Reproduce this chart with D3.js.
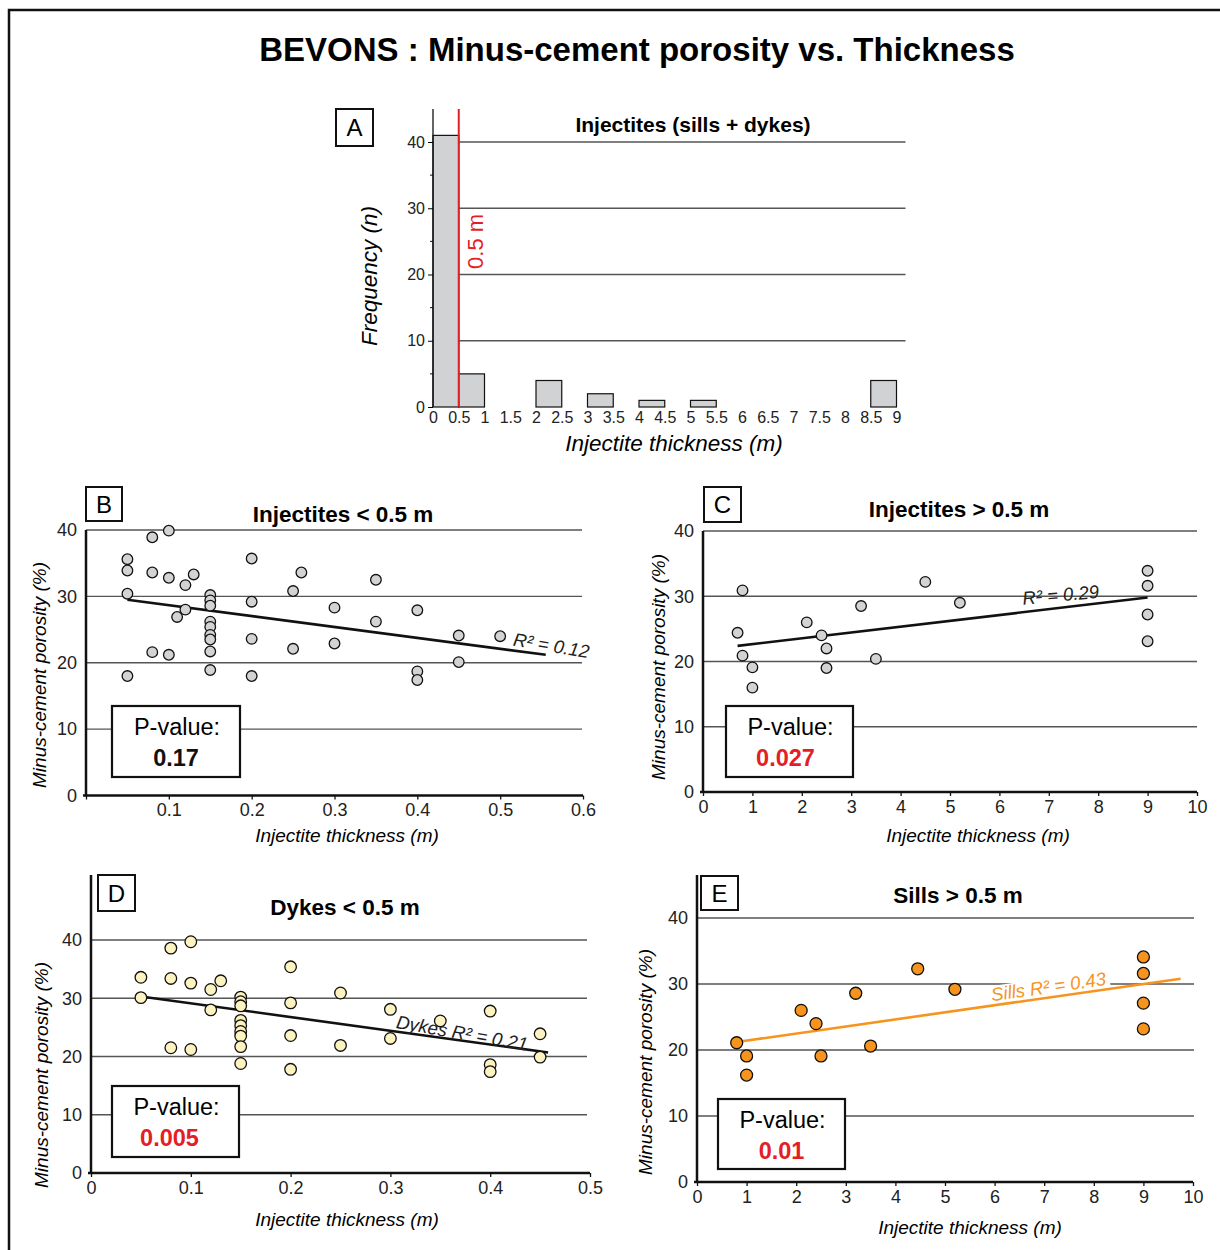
<!DOCTYPE html>
<html>
<head>
<meta charset="utf-8">
<script src="https://cdn.jsdelivr.net/npm/d3@7"></script>
<style>
  body { margin: 0; background: #fff; }
  svg { display: block; font-family: "Liberation Sans", Arial, sans-serif; }
</style>
</head>
<body>
<svg id="chart" width="1220" height="1250"></svg>
<script>
// ---- data ----
const histStart = [0, 0.5, 2, 3, 4, 5, 8.5];
const histCount = [41, 5, 4, 2, 1, 1, 4];
const histTicks = [0, 0.5, 1, 1.5, 2, 2.5, 3, 3.5, 4, 4.5, 5, 5.5, 6, 6.5, 7, 7.5, 8, 8.5, 9];

// B: all injectites < 0.5 m
const injThinX = [0.05, 0.05, 0.05, 0.05, 0.08, 0.08, 0.08, 0.10, 0.10, 0.10, 0.11, 0.12, 0.12, 0.13,
  0.15, 0.15, 0.15, 0.15, 0.15, 0.15, 0.15, 0.15, 0.15, 0.20, 0.20, 0.20, 0.20, 0.25, 0.25, 0.26,
  0.30, 0.30, 0.35, 0.35, 0.40, 0.40, 0.40, 0.45, 0.45, 0.50];
const injThinY = [35.6, 33.9, 30.4, 18.0, 38.9, 33.6, 21.6, 39.9, 32.8, 21.2, 26.9, 31.7, 28.0, 33.3,
  30.2, 29.4, 28.6, 26.2, 25.4, 24.2, 23.5, 21.7, 18.9, 35.7, 29.2, 23.6, 18.0, 30.8, 22.1, 33.6,
  28.3, 22.9, 32.5, 26.2, 27.9, 18.7, 17.4, 24.1, 20.1, 24.0];
const injThinTrend = [[0.05, 29.5], [0.555, 21.2]];

// C: all injectites > 0.5 m
const injThickX = [0.7, 0.8, 0.8, 1.0, 1.0, 2.1, 2.4, 2.5, 2.5, 3.2, 3.5, 4.5, 5.2, 9, 9, 9, 9];
const injThickY = [24.4, 30.9, 20.9, 19.1, 16.0, 26.0, 24.0, 22.0, 19.0, 28.5, 20.4, 32.2, 29.0, 33.9, 31.6, 27.2, 23.1];
const injThickTrend = [[0.7, 22.4], [9.0, 29.8]];

// D: dykes < 0.5 m
const dykeX = [0.05, 0.05, 0.08, 0.08, 0.08, 0.10, 0.10, 0.10, 0.12, 0.12, 0.13,
  0.15, 0.15, 0.15, 0.15, 0.15, 0.15, 0.15, 0.15, 0.15, 0.20, 0.20, 0.20, 0.20,
  0.25, 0.25, 0.30, 0.30, 0.35, 0.40, 0.40, 0.40, 0.45, 0.45];
const dykeY = [33.6, 30.1, 38.6, 33.4, 21.5, 39.7, 32.6, 21.2, 31.5, 28.0, 33.0,
  30.2, 29.4, 28.7, 26.2, 25.3, 24.3, 23.5, 21.7, 18.8, 35.4, 29.2, 23.6, 17.8,
  30.9, 21.9, 28.1, 23.1, 26.1, 27.8, 18.6, 17.4, 23.9, 19.9];
const dykeTrend = [[0.05, 30.3], [0.458, 20.7]];

// E: sills > 0.5 m
const sillX = [0.8, 1.0, 1.0, 2.1, 2.4, 2.5, 3.2, 3.5, 4.45, 5.2, 9, 9, 9, 9];
const sillY = [21.1, 19.1, 16.2, 26.0, 24.0, 19.1, 28.6, 20.6, 32.3, 29.2, 34.1, 31.6, 27.1, 23.2];
const sillTrend = [[0.8, 21.2], [9.75, 30.8]];

const porosityTicks = [0, 10, 20, 30, 40];

// ---- drawing ----
const svg = d3.select('#chart');
const RED = '#e41e26';
const FONT = 'Liberation Sans, Arial, sans-serif';

svg.append('rect')
  .attr('x', 9).attr('y', 10).attr('width', 1240).attr('height', 1270)
  .attr('fill', 'none').attr('stroke', '#111').attr('stroke-width', 2.5);

svg.append('text')
  .attr('x', 637).attr('y', 61)
  .attr('text-anchor', 'middle')
  .attr('font-size', 33).attr('font-weight', 'bold')
  .text('BEVONS : Minus-cement porosity vs. Thickness');

const letterBox = (x, y, w, h, letter) => {
  svg.append('rect').attr('x', x).attr('y', y).attr('width', w).attr('height', h)
    .attr('fill', '#fff').attr('stroke', '#111').attr('stroke-width', 2);
  svg.append('text').attr('x', x + w / 2).attr('y', y + h / 2 + 8.5)
    .attr('text-anchor', 'middle').attr('font-size', 24).text(letter);
};

// ---- panel A: histogram ----
{
  const x = d3.scaleLinear().domain([0, 9]).range([433, 896.5]);
  const y = d3.scaleLinear().domain([0, 40]).range([407, 142]);
  const g = svg.append('g');

  g.selectAll('line.grid').data([10, 20, 30, 40]).join('line')
    .attr('x1', x(0.5)).attr('x2', x.range()[1] + 9)
    .attr('y1', d => y(d)).attr('y2', d => y(d))
    .attr('stroke', '#555').attr('stroke-width', 1.3);

  g.selectAll('rect.bar').data(histStart).join('rect')
    .attr('x', d => x(d)).attr('width', x(0.5) - x(0))
    .attr('y', (d, i) => y(histCount[i]))
    .attr('height', (d, i) => y(0) - y(histCount[i]))
    .attr('fill', '#d1d2d4').attr('stroke', '#111').attr('stroke-width', 1.2);

  // y axis
  g.append('line').attr('x1', x(0)).attr('x2', x(0)).attr('y1', 109).attr('y2', y(0))
    .attr('stroke', '#111').attr('stroke-width', 1.3);
  g.selectAll('line.minor').data([5, 15, 25, 35]).join('line')
    .attr('x1', x(0) - 3).attr('x2', x(0)).attr('y1', d => y(d)).attr('y2', d => y(d))
    .attr('stroke', '#111');
  const yAx = g.append('g').attr('transform', `translate(${x(0)},0)`)
    .call(d3.axisLeft(y).tickValues(porosityTicks).tickSize(5).tickPadding(3));
  yAx.select('.domain').remove();
  yAx.selectAll('text').attr('font-size', 16).attr('fill', '#222').attr('font-family', FONT);

  const xAx = g.append('g').attr('transform', `translate(0,${y(0)})`)
    .call(d3.axisBottom(x).tickValues(histTicks).tickSize(0).tickPadding(5).tickFormat(d => d));
  xAx.select('.domain').remove();
  xAx.selectAll('text').attr('font-size', 16).attr('fill', '#222').attr('font-family', FONT);

  // 0.5 m threshold
  g.append('line').attr('x1', x(0.5)).attr('x2', x(0.5)).attr('y1', 109).attr('y2', y(0))
    .attr('stroke', RED).attr('stroke-width', 2);
  g.append('text').attr('transform', `translate(${x(0.5) + 24},${y(25)}) rotate(-90)`)
    .attr('text-anchor', 'middle').attr('fill', RED).attr('font-size', 22).text('0.5 m');

  g.append('text').attr('x', 693).attr('y', 132).attr('text-anchor', 'middle')
    .attr('font-size', 21).attr('font-weight', 'bold').text('Injectites (sills + dykes)');
  g.append('text').attr('transform', 'translate(377,276) rotate(-90)')
    .attr('text-anchor', 'middle').attr('font-size', 22.5).attr('font-style', 'italic')
    .text('Frequency (n)');
  g.append('text').attr('x', 674).attr('y', 451).attr('text-anchor', 'middle')
    .attr('font-size', 22.5).attr('font-style', 'italic').text('Injectite thickness (m)');

  letterBox(336, 109, 37, 37, 'A');
}

// ---- scatter panels ----
const scatterPanel = (cfg) => {
  const x = d3.scaleLinear().domain(cfg.xDomain).range(cfg.xRange);
  const y = d3.scaleLinear().domain([0, 40]).range(cfg.yRange);
  const g = svg.append('g');

  g.selectAll('line.grid').data([10, 20, 30, 40]).join('line')
    .attr('x1', x.range()[0]).attr('x2', cfg.gridEnd)
    .attr('y1', d => y(d)).attr('y2', d => y(d))
    .attr('stroke', '#555').attr('stroke-width', 1.3);

  // p-value box
  const pb = cfg.pBox;
  g.append('rect').attr('x', pb[0]).attr('y', pb[1]).attr('width', pb[2]).attr('height', pb[3])
    .attr('fill', '#fff').attr('stroke', '#111').attr('stroke-width', 2.2);
  g.append('text').attr('x', pb[0] + pb[2] / 2 + 1).attr('y', pb[1] + 29)
    .attr('text-anchor', 'middle').attr('font-size', 23.5).text('P-value:');
  g.append('text').attr('x', pb[0] + pb[2] / 2 + cfg.pShift).attr('y', pb[1] + 60)
    .attr('text-anchor', 'middle').attr('font-size', 23.5).attr('font-weight', 'bold')
    .attr('fill', cfg.pColor).text(cfg.pValue);

  // axes
  g.append('line').attr('x1', x.range()[0]).attr('x2', x.range()[0])
    .attr('y1', cfg.axisTop).attr('y2', y(0))
    .attr('stroke', '#111').attr('stroke-width', 2.5);
  const yAx = g.append('g').attr('transform', `translate(${x.range()[0]},0)`)
    .call(d3.axisLeft(y).tickValues(porosityTicks).tickSize(0).tickPadding(9));
  yAx.select('.domain').remove();
  yAx.selectAll('text').attr('font-size', 18).attr('fill', '#222').attr('font-family', FONT);

  const xAx = g.append('g').attr('transform', `translate(0,${y(0)})`)
    .call(d3.axisBottom(x).tickValues(cfg.xTicks).tickSize(4).tickSizeOuter(0).tickPadding(4).tickFormat(d => d));
  xAx.select('.domain').attr('stroke', '#111').attr('stroke-width', 2.5)
    .attr('d', `M${x.range()[0] - 3},0H${x.range()[1]}`);
  xAx.selectAll('.tick line').attr('stroke', '#111').attr('stroke-width', 1.3);
  xAx.selectAll('text').attr('font-size', 18).attr('fill', '#222').attr('font-family', FONT);
  if (cfg.hideZero) xAx.selectAll('.tick').filter(d => d === 0).select('text').remove();

  // trend line
  const t = cfg.trend;
  g.append('line')
    .attr('x1', x(t[0][0])).attr('y1', y(t[0][1]))
    .attr('x2', x(t[1][0])).attr('y2', y(t[1][1]))
    .attr('stroke', cfg.trendColor).attr('stroke-width', 2.6);

  // points
  g.selectAll('circle').data(cfg.xs).join('circle')
    .attr('cx', d => x(d)).attr('cy', (d, i) => y(cfg.ys[i]))
    .attr('r', cfg.r)
    .attr('fill', cfg.fill).attr('stroke', '#111').attr('stroke-width', 1.3);

  // trend label
  const angle = Math.atan2(y(t[1][1]) - y(t[0][1]), x(t[1][0]) - x(t[0][0])) * 180 / Math.PI;
  const lg = g.append('g')
    .attr('transform', `translate(${x(cfg.labelAt[0])},${y(cfg.labelAt[1])}) rotate(${angle + cfg.labelTilt})`);
  const lt = lg.append('text').attr('font-size', 18.5).attr('font-style', 'italic')
    .attr('fill', cfg.labelColor).text(cfg.label);
  if (cfg.labelBg) {
    const bb = lt.node().getBBox();
    lg.insert('rect', 'text').attr('x', bb.x - 3).attr('y', bb.y + 2)
      .attr('width', bb.width + 6).attr('height', bb.height - 4).attr('fill', '#fff');
  }

  // titles
  g.append('text').attr('x', cfg.title[1]).attr('y', cfg.title[2]).attr('text-anchor', 'middle')
    .attr('font-size', 22.5).attr('font-weight', 'bold').text(cfg.title[0]);
  g.append('text').attr('transform', `translate(${cfg.yLabel[0]},${cfg.yLabel[1]}) rotate(-90)`)
    .attr('text-anchor', 'middle').attr('font-size', 19).attr('font-style', 'italic')
    .text('Minus-cement porosity (%)');
  g.append('text').attr('x', cfg.xLabel[0]).attr('y', cfg.xLabel[1]).attr('text-anchor', 'middle')
    .attr('font-size', 19).attr('font-style', 'italic').text('Injectite thickness (m)');

  letterBox(...cfg.letter);
};

scatterPanel({
  xDomain: [0, 0.6], xRange: [86, 583], yRange: [795.5, 530], axisTop: 530, gridEnd: 582,
  xTicks: [0, 0.1, 0.2, 0.3, 0.4, 0.5, 0.6], hideZero: true,
  xs: injThinX, ys: injThinY, r: 5.3, fill: '#d3d3d5',
  trend: injThinTrend, trendColor: '#111',
  label: 'R² = 0.12', labelAt: [0.515, 22.6], labelTilt: 2, labelColor: '#222',
  pBox: [112, 706, 128, 71], pValue: '0.17', pColor: '#111', pShift: 0,
  title: ['Injectites < 0.5 m', 343, 522], yLabel: [46, 675], xLabel: [347, 842],
  letter: [86, 487, 36, 34, 'B']
});

scatterPanel({
  xDomain: [0, 10], xRange: [703, 1197], yRange: [792, 531], axisTop: 531, gridEnd: 1197,
  xTicks: d3.range(0, 11), hideZero: false,
  xs: injThickX, ys: injThickY, r: 5.3, fill: '#d3d3d5',
  trend: injThickTrend, trendColor: '#111',
  label: 'R² = 0.29', labelAt: [6.48, 28.7], labelTilt: 1.5, labelColor: '#222',
  pBox: [726, 706, 127, 71], pValue: '0.027', pColor: RED, pShift: -4,
  title: ['Injectites > 0.5 m', 959, 517], yLabel: [665, 667], xLabel: [978, 842],
  letter: [704, 487, 37, 35, 'C']
});

scatterPanel({
  xDomain: [0, 0.5], xRange: [91, 590], yRange: [1173, 940], axisTop: 875, gridEnd: 587,
  xTicks: [0, 0.1, 0.2, 0.3, 0.4, 0.5], hideZero: false,
  xs: dykeX, ys: dykeY, r: 5.8, fill: '#fcf3c0',
  trend: dykeTrend, trendColor: '#111',
  label: 'Dykes R² = 0.21', labelAt: [0.305, 24.9], labelTilt: 2, labelColor: '#222',
  pBox: [112, 1086, 127, 71], pValue: '0.005', pColor: RED, pShift: -6,
  title: ['Dykes < 0.5 m', 345, 915], yLabel: [48, 1075], xLabel: [347, 1226],
  letter: [98, 875, 37, 36, 'D']
});

scatterPanel({
  xDomain: [0, 10], xRange: [697, 1193], yRange: [1182, 918], axisTop: 875, gridEnd: 1194,
  xTicks: d3.range(0, 11), hideZero: false,
  xs: sillX, ys: sillY, r: 6, fill: '#f7941d',
  trend: sillTrend, trendColor: '#f7941d',
  label: 'Sills R² = 0.43', labelAt: [5.95, 27.4], labelTilt: 0, labelColor: '#f7941d', labelBg: true,
  pBox: [718, 1099, 127, 70], pValue: '0.01', pColor: RED, pShift: 0,
  title: ['Sills > 0.5 m', 958, 903], yLabel: [652, 1062], xLabel: [970, 1234],
  letter: [701, 876, 37, 34, 'E']
});
</script>
</body>
</html>
